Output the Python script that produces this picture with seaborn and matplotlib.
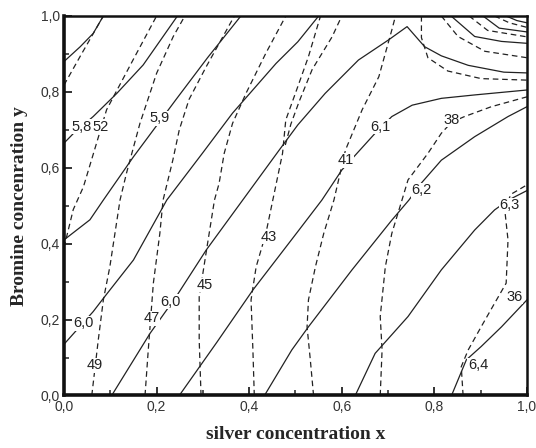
import matplotlib
matplotlib.use("Agg")
import matplotlib.pyplot as plt
from matplotlib.ticker import MultipleLocator, FixedLocator, FixedFormatter
import pandas as pd
import seaborn as sns

# Solid isolines (first property, values 5.7 ... 6.4)
solid_levels = [5.7, 5.8, 5.9, 6.0, 6.0, 6.1, 6.2, 6.3, 6.4, 5.9, 5.8, 5.7]
solid_x = [
    [0.0, 0.035, 0.063, 0.085],
    [0.0, 0.02, 0.063, 0.114, 0.171, 0.245],
    [0.0, 0.056, 0.085, 0.150, 0.242, 0.31, 0.382],
    [0.0, 0.063, 0.085, 0.150, 0.222, 0.30, 0.364, 0.458, 0.505, 0.55],
    [0.103, 0.186, 0.242, 0.307, 0.386, 0.465, 0.505, 0.564, 0.636, 0.701, 0.741,
     0.779, 0.815, 0.873, 0.95, 1.0],
    [0.249, 0.33, 0.408, 0.505, 0.557, 0.6, 0.672, 0.708, 0.752, 0.815, 0.887, 1.0],
    [0.433, 0.492, 0.528, 0.622, 0.708, 0.745, 0.772, 0.815, 0.887, 0.959, 1.0],
    [0.629, 0.672, 0.743, 0.815, 0.887, 0.93, 0.96, 1.0],
    [0.837, 0.869, 0.901, 0.945, 1.0],
    [0.836, 0.887, 0.945, 1.0],
    [0.905, 0.94, 1.0],
    [0.955, 0.978, 1.0],
]
solid_y = [
    [0.88, 0.919, 0.954, 1.0],
    [0.665, 0.69, 0.735, 0.796, 0.871, 1.0],
    [0.41, 0.463, 0.515, 0.629, 0.78, 0.89, 1.0],
    [0.135, 0.221, 0.256, 0.357, 0.515, 0.64, 0.744, 0.875, 0.932, 1.0],
    [0.0, 0.164, 0.26, 0.383, 0.515, 0.647, 0.713, 0.796, 0.884, 0.937, 0.972,
     0.919, 0.895, 0.87, 0.852, 0.85],
    [0.0, 0.14, 0.278, 0.432, 0.515, 0.594, 0.691, 0.735, 0.765, 0.783, 0.792, 0.805],
    [0.0, 0.12, 0.181, 0.331, 0.462, 0.515, 0.56, 0.62, 0.682, 0.735, 0.761],
    [0.0, 0.111, 0.208, 0.331, 0.436, 0.489, 0.515, 0.54],
    [0.0, 0.094, 0.129, 0.181, 0.252],
    [1.0, 0.946, 0.933, 0.928],
    [1.0, 0.968, 0.958],
    [1.0, 0.988, 0.982],
]

# Dashed isolines (second property, values 36 ... 53)
dashed_levels = [53, 52, 49, 47, 45, 43, 41, 38, 36, 39, 40, 41, 42, 42]
dashed_x = [
    [0.0, 0.036, 0.085],
    [0.0, 0.02, 0.042, 0.092, 0.149, 0.2],
    [0.06, 0.074, 0.085, 0.099, 0.121, 0.135, 0.164, 0.2, 0.236, 0.261],
    [0.175, 0.182, 0.193, 0.207, 0.214, 0.235, 0.249, 0.27, 0.307, 0.368],
    [0.296, 0.292, 0.292, 0.31, 0.325, 0.335, 0.346, 0.364, 0.393, 0.436, 0.479],
    [0.411, 0.408, 0.404, 0.415, 0.436, 0.451, 0.472, 0.479, 0.505, 0.528, 0.554],
    [0.539, 0.532, 0.525, 0.528, 0.543, 0.561, 0.583, 0.608, 0.644, 0.68, 0.708, 0.716],
    [0.683, 0.687, 0.683, 0.694, 0.708, 0.73, 0.743, 0.786, 0.815, 0.837, 0.865,
     0.923, 1.0],
    [0.862, 0.858, 0.873, 0.901, 0.93, 0.955, 0.959, 0.952, 0.965, 1.0],
    [0.772, 0.772, 0.786, 0.829, 0.901, 1.0],
    [0.815, 0.851, 0.909, 1.0],
    [0.875, 0.915, 1.0],
    [0.93, 0.962, 1.0],
    [0.478, 0.49, 0.508, 0.536, 0.579, 0.6],
]
dashed_y = [
    [0.818, 0.896, 1.0],
    [0.39, 0.49, 0.55, 0.753, 0.884, 1.0],
    [0.0, 0.146, 0.252, 0.339, 0.515, 0.586, 0.717, 0.849, 0.946, 1.0],
    [0.0, 0.12, 0.296, 0.427, 0.515, 0.62, 0.70, 0.78, 0.866, 1.0],
    [0.0, 0.146, 0.26, 0.40, 0.515, 0.559, 0.638, 0.717, 0.796, 0.902, 1.0],
    [0.0, 0.12, 0.252, 0.339, 0.427, 0.515, 0.638, 0.726, 0.814, 0.893, 1.0],
    [0.0, 0.094, 0.181, 0.252, 0.339, 0.427, 0.515, 0.647, 0.753, 0.84, 0.963, 1.0],
    [0.0, 0.12, 0.208, 0.339, 0.427, 0.515, 0.568, 0.638, 0.691, 0.72, 0.735,
     0.761, 0.787],
    [0.0, 0.076, 0.12, 0.181, 0.243, 0.296, 0.41, 0.489, 0.53, 0.555],
    [1.0, 0.943, 0.89, 0.855, 0.835, 0.831],
    [1.0, 0.946, 0.907, 0.89],
    [1.0, 0.962, 0.945],
    [1.0, 0.982, 0.97],
    [0.66, 0.715, 0.775, 0.859, 0.945, 1.0],
]

# Which line carries a value label, and where the label sits
solid_label_idx = [1, 2, 3, 4, 5, 6, 7, 8]
solid_label_pos = [(0.037, 0.708), (0.207, 0.73), (0.042, 0.19), (0.229, 0.247),
                   (0.683, 0.708), (0.772, 0.541), (0.962, 0.502), (0.894, 0.08)]
dashed_label_idx = [1, 2, 3, 4, 5, 6, 7, 8]
dashed_label_pos = [(0.079, 0.708), (0.067, 0.08), (0.189, 0.203), (0.303, 0.291),
                    (0.443, 0.418), (0.608, 0.62), (0.837, 0.726), (0.973, 0.26)]

tick_values = [0.0, 0.2, 0.4, 0.6, 0.8, 1.0]
tick_labels = ["0,0", "0,2", "0,4", "0,6", "0,8", "1,0"]

rows = []
for i, (xs, ys) in enumerate(zip(solid_x, solid_y)):
    for x, y in zip(xs, ys):
        rows.append(dict(line=f"s{i}", family="solid", x=x, y=y))
for i, (xs, ys) in enumerate(zip(dashed_x, dashed_y)):
    for x, y in zip(xs, ys):
        rows.append(dict(line=f"d{i}", family="dashed", x=x, y=y))
df = pd.DataFrame(rows)

sns.set_style("white")
plt.rcParams["font.family"] = ["Liberation Sans", "DejaVu Sans"]

fig = plt.figure(figsize=(5.36, 4.48), dpi=100)
ax = fig.add_axes([0.1194, 0.1172, 0.9832 - 0.1194, 0.9643 - 0.1172])

sns.lineplot(data=df, x="x", y="y", units="line", style="family",
             estimator=None, sort=False, color="#222222", linewidth=0.9,
             dashes={"solid": "", "dashed": (4.5, 3)}, legend=False, ax=ax)

lbl_kw = dict(ha="center", va="center", fontsize=10.5, color="#222222",
              bbox=dict(facecolor="white", edgecolor="none", pad=0.3), zorder=5)
for idx, (px, py) in zip(solid_label_idx, solid_label_pos):
    ax.text(px, py, f"{solid_levels[idx]:.1f}".replace(".", ","), **lbl_kw)
for idx, (px, py) in zip(dashed_label_idx, dashed_label_pos):
    ax.text(px, py, f"{dashed_levels[idx]:d}", **lbl_kw)

ax.set_xlim(0, 1)
ax.set_ylim(0, 1)
ax.xaxis.set_major_locator(FixedLocator(tick_values))
ax.xaxis.set_major_formatter(FixedFormatter(tick_labels))
ax.yaxis.set_major_locator(FixedLocator(tick_values))
ax.yaxis.set_major_formatter(FixedFormatter(tick_labels))
ax.xaxis.set_minor_locator(MultipleLocator(0.1))
ax.yaxis.set_minor_locator(MultipleLocator(0.1))
ax.tick_params(which="both", direction="in", bottom=True, left=True,
               top=False, right=False, labelsize=10, colors="#333333", pad=3)
ax.tick_params(which="major", length=6, width=1.4)
ax.tick_params(which="minor", length=3.5, width=1.2)

for side in ["left", "bottom"]:
    ax.spines[side].set_linewidth(2.6)
for side in ["top", "right"]:
    ax.spines[side].set_linewidth(1.8)
for s in ax.spines.values():
    s.set_color("#111111")

ax.set_xlabel("silver concentration x", fontsize=14, fontweight="bold",
              family="Liberation Serif", labelpad=9)
ax.set_ylabel("Bromine concenration y", fontsize=14, fontweight="bold",
              family="Liberation Serif", labelpad=9)

fig.savefig("out.png", dpi=100, facecolor="white")
